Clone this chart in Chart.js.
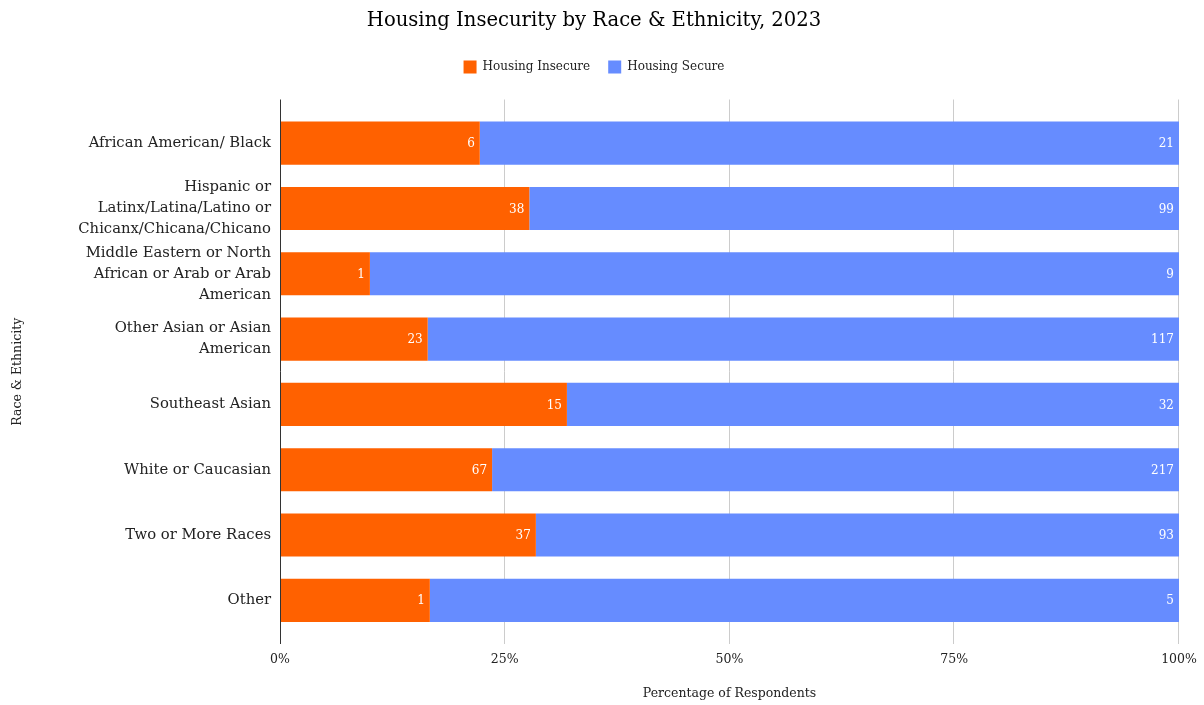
<!DOCTYPE html>
<html>
<head>
<meta charset="utf-8">
<script src="https://cdn.jsdelivr.net/npm/chart.js@4.4.1/dist/chart.umd.min.js"></script>
<style>
  html, body { margin: 0; padding: 0; background: #fff; }
  #wrap { width: 1204px; height: 705px; position: relative; }
</style>
</head>
<body>
<div id="wrap"><canvas id="c" width="1204" height="705"></canvas></div>
<script>
// Respondent groups (multi-line labels as arrays)
const categories = [
  ['African American/ Black'],
  ['Hispanic or', 'Latinx/Latina/Latino or', 'Chicanx/Chicana/Chicano'],
  ['Middle Eastern or North', 'African or Arab or Arab', 'American'],
  ['Other Asian or Asian', 'American'],
  ['Southeast Asian'],
  ['White or Caucasian'],
  ['Two or More Races'],
  ['Other']
];
// Respondent counts
const insecureCounts = [6, 38, 1, 23, 15, 67, 37, 1];
const secureCounts = [21, 99, 9, 117, 32, 217, 93, 5];
const xTickLabels = ['0%', '25%', '50%', '75%', '100%'];

const totals = insecureCounts.map((v, i) => v + secureCounts[i]);
const insecurePct = insecureCounts.map((v, i) => v / totals[i] * 100);
const securePct = secureCounts.map((v, i) => v / totals[i] * 100);

const FONT = "'DejaVu Serif', Georgia, serif";
const ORANGE = '#ff6100';
const BLUE = '#668cff';

// Extra space below the legend
const legendSpacing = {
  id: 'legendSpacing',
  beforeInit(chart) {
    const fit = chart.legend.fit;
    chart.legend.fit = function () {
      fit.call(this);
      this.height += 27;
    };
  }
};

// Grid lines extended slightly past the plot area, drawn behind the bars
const gridPlugin = {
  id: 'extGrid',
  beforeDatasetsDraw(chart) {
    const { ctx, chartArea, scales } = chart;
    const xs = scales.x;
    ctx.save();
    ctx.lineWidth = 1;
    for (let v = 25; v <= 100; v += 25) {
      const px = Math.round(xs.getPixelForValue(v)) - 0.5;
      ctx.strokeStyle = '#cccccc';
      ctx.beginPath();
      ctx.moveTo(px, chartArea.top - 11);
      ctx.lineTo(px, chartArea.bottom + 11);
      ctx.stroke();
    }
    ctx.restore();
  },
  afterDatasetsDraw(chart) {
    const { ctx, chartArea, scales } = chart;
    const px = Math.round(scales.x.getPixelForValue(0)) + 0.5;
    ctx.save();
    ctx.strokeStyle = '#333333';
    ctx.lineWidth = 1;
    ctx.beginPath();
    ctx.moveTo(px, chartArea.top - 11);
    ctx.lineTo(px, chartArea.bottom + 11);
    ctx.stroke();
    ctx.restore();
  }
};

// Count labels at the end of each segment
const countLabels = {
  id: 'countLabels',
  afterDatasetsDraw(chart) {
    const { ctx } = chart;
    const counts = [insecureCounts, secureCounts];
    ctx.save();
    ctx.font = '12px ' + FONT;
    ctx.fillStyle = '#ffffff';
    ctx.textAlign = 'right';
    ctx.textBaseline = 'middle';
    chart.data.datasets.forEach((ds, di) => {
      const meta = chart.getDatasetMeta(di);
      meta.data.forEach((el, i) => {
        ctx.fillText(String(counts[di][i]), el.x - 5, el.y + 1);
      });
    });
    ctx.restore();
  }
};

new Chart(document.getElementById('c'), {
  type: 'bar',
  data: {
    labels: categories,
    datasets: [
      { label: 'Housing Insecure', data: insecurePct, backgroundColor: ORANGE, borderWidth: 0 },
      { label: 'Housing Secure', data: securePct, backgroundColor: BLUE, borderWidth: 0 }
    ]
  },
  options: {
    indexAxis: 'y',
    responsive: false,
    animation: false,
    devicePixelRatio: 1,
    layout: { padding: { left: 0, right: 16, top: 0, bottom: 0 } },
    datasets: { bar: { barPercentage: 0.66, categoryPercentage: 1.0 } },
    plugins: {
      title: {
        display: true,
        text: 'Housing Insecurity by Race & Ethnicity, 2023',
        color: '#000000',
        font: { family: FONT, size: 19.6, weight: 'normal' },
        padding: { top: 9, bottom: 10 }
      },
      legend: {
        display: true,
        position: 'top',
        labels: {
          color: '#222222',
          font: { family: FONT, size: 12 },
          boxWidth: 13,
          boxHeight: 13,
          padding: 18
        }
      },
      tooltip: { enabled: false }
    },
    scales: {
      x: {
        stacked: true,
        min: 0,
        max: 100,
        afterFit(s) { s.height = 72; s.paddingRight = 25; s.paddingLeft = 0; },
        grid: { display: false },
        border: { display: false },
        ticks: {
          stepSize: 25,
          padding: 11,
          color: '#222222',
          font: { family: FONT, size: 12.5 },
          callback: (v) => xTickLabels[v / 25]
        },
        title: {
          display: true,
          text: 'Percentage of Respondents',
          color: '#222222',
          font: { family: FONT, size: 12.5 },
          padding: { top: 14, bottom: 4 }
        }
      },
      y: {
        stacked: true,
        afterFit(s) { s.width = 280; },
        grid: { display: false, drawTicks: false },
        border: { display: false },
        ticks: {
          autoSkip: false,
          color: '#222222',
          padding: 9,
          font: { family: FONT, size: 14.8, lineHeight: 1.42 }
        },
        title: {
          display: true,
          text: 'Race & Ethnicity',
          color: '#222222',
          font: { family: FONT, size: 12.5 },
          padding: { top: 10, bottom: 0 }
        }
      }
    }
  },
  plugins: [legendSpacing, gridPlugin, countLabels]
});
</script>
</body>
</html>
